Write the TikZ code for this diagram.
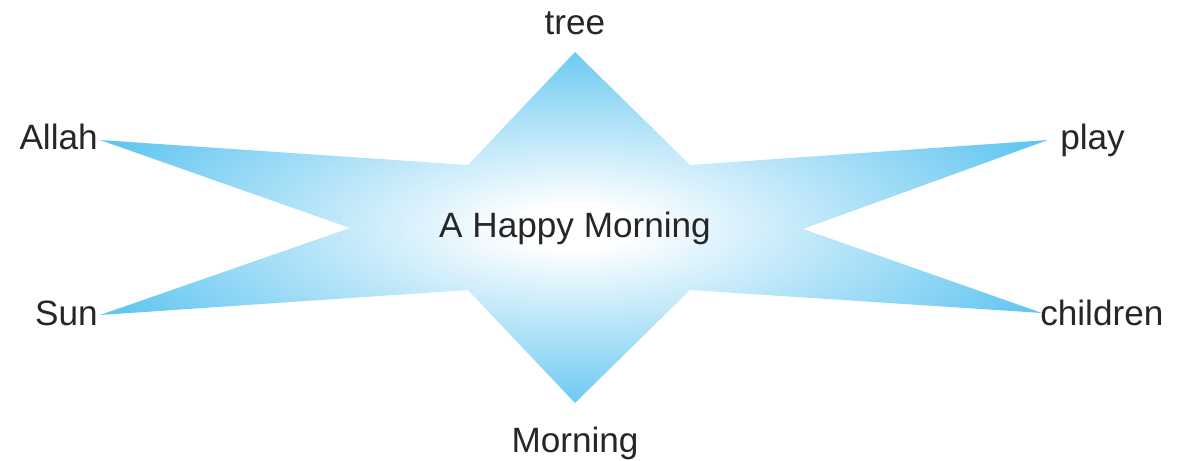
\documentclass[tikz,border=0pt]{standalone}
\usepackage{fontspec}
\setmainfont{Liberation Sans}
\usetikzlibrary{positioning}
\definecolor{starblue}{RGB}{90, 195, 240}
\pgfdeclareradialshading{starglow}{\pgfpoint{0bp}{0bp}}{color(0bp)=(white); color(3bp)=(white); color(28bp)=(starblue); color(50bp)=(starblue)}

\begin{document}
\begin{tikzpicture}[x=0.025cm, y=-0.025cm,
	word/.style={font=\fontsize{25}{30}\selectfont, inner sep=0pt, text=black!85}]
	\useasboundingbox (0,0) rectangle (1193,461);
	
	\coordinate (tip-n) at (575,52);
	\coordinate (in-ne) at (690,165);
	\coordinate (tip-ne) at (1048,140);
	\coordinate (in-e) at (803,229);
	\coordinate (tip-se) at (1042,313);
	\coordinate (in-se) at (690,290);
	\coordinate (tip-s) at (575,403);
	\coordinate (in-sw) at (468,290);
	\coordinate (tip-sw) at (100,315);
	\coordinate (in-w) at (350,228);
	\coordinate (tip-nw) at (100,140);
	\coordinate (in-nw) at (468,165);
	
	\shade[shading=starglow] (tip-n) -- (in-ne) -- (tip-ne) -- (in-e) -- (tip-se) -- (in-se)
		-- (tip-s) -- (in-sw) -- (tip-sw) -- (in-w) -- (tip-nw) -- (in-nw) -- cycle;
	
	\node[word] (title) at (575,228) {A Happy Morning};
	\node[word, above=0.42cm of tip-n] (tree) {tree};
	\node[word, below=0.6cm of tip-s] (morning) {Morning};
	\node[word, left=0.05cm of tip-nw, yshift=0.08cm] (allah) {Allah};
	\node[word, left=0.05cm of tip-sw, yshift=0.05cm] (sun) {Sun};
	\node[word, right=0.3cm of tip-ne] (play) {play};
	\node[word, right=-0.05cm of tip-se] (children) {children};
	
\end{tikzpicture}
\end{document}
